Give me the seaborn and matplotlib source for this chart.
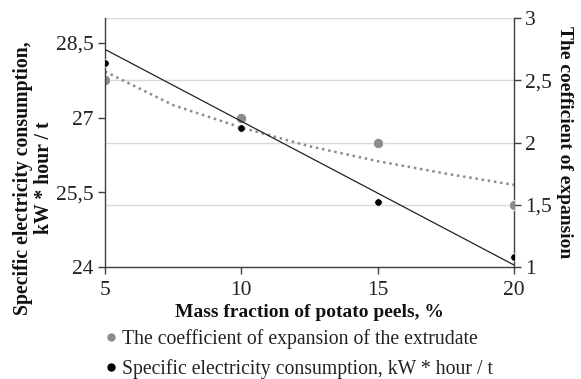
import numpy as np
import pandas as pd
import matplotlib
matplotlib.use("Agg")
import matplotlib.pyplot as plt
import seaborn as sns
from matplotlib.ticker import FuncFormatter, FixedLocator
from matplotlib.lines import Line2D

sns.set_theme(style="white")
plt.rcParams['font.family'] = ['Liberation Serif', 'DejaVu Serif']

# Data
mass_fraction = [5, 10, 15, 20]
energy = [28.1, 26.8, 25.3, 24.2]           # left axis
expansion = [2.5, 2.2, 2.0, 1.5]            # right axis
energy_trend_x = [5, 20]
energy_trend = [28.37, 24.04]
expansion_trend_x = [5, 7.5, 10, 12.5, 15, 17.5, 20]
expansion_trend = [2.57, 2.30, 2.12, 1.97, 1.85, 1.75, 1.66]

x_ticks = [5, 10, 15, 20]
left_ticks = [24, 25.5, 27, 28.5]
right_ticks = [1, 1.5, 2, 2.5, 3]

label_expansion = "The coefficient of expansion of the extrudate"
label_energy = "Specific electricity consumption, kW * hour / t"

df_pts = pd.DataFrame({"x": mass_fraction, "energy": energy, "expansion": expansion})
df_et = pd.DataFrame({"x": energy_trend_x, "y": energy_trend})
df_xt = pd.DataFrame({"x": expansion_trend_x, "y": expansion_trend})

fig = plt.figure(figsize=(5.81, 3.79), dpi=100)
ax = fig.add_axes([0.1807, 0.2955, 0.704, 0.657])
ax2 = ax.twinx()

grey = "#8c8c8c"
spine_c = "#404040"
fs_tick = 15.5
fs_leg = 14.2

# right axis: gridlines + expansion
ax2.set_ylim(1, 3)
ax2.yaxis.set_major_locator(FixedLocator(right_ticks))
ax2.grid(True, axis="y", color="#d9d9d9", linewidth=1.0)
ax2.set_axisbelow(True)

sns.lineplot(data=df_xt, x="x", y="y", ax=ax2, color=grey, linestyle=(0, (1.0, 1.5)),
             linewidth=1.8, legend=False)
sns.scatterplot(data=df_pts, x="x", y="expansion", ax=ax2, color=grey, s=55,
                edgecolor="white", linewidth=0.6, zorder=5, legend=False)

# left axis: energy
sns.lineplot(data=df_et, x="x", y="y", ax=ax, color="#222222", linewidth=0.9, legend=False)
sns.scatterplot(data=df_pts, x="x", y="energy", ax=ax, color="black", s=30,
                edgecolor="white", linewidth=0.6, zorder=5, legend=False)
ax.set_zorder(ax2.get_zorder() + 1)
ax.patch.set_visible(False)

ax.set_xlim(5, 20)
ax.set_ylim(24, 29)
ax.xaxis.set_major_locator(FixedLocator(x_ticks))
ax.yaxis.set_major_locator(FixedLocator(left_ticks))

fmt = FuncFormatter(lambda v, p: ("%g" % v).replace(".", ","))
ax.yaxis.set_major_formatter(fmt)
ax2.yaxis.set_major_formatter(fmt)
ax.xaxis.set_major_formatter(fmt)

for a in (ax, ax2):
    for s in a.spines.values():
        s.set_visible(False)
ax.spines["left"].set_visible(True)
ax.spines["bottom"].set_visible(True)
ax2.spines["right"].set_visible(True)
for s in (ax.spines["left"], ax.spines["bottom"], ax2.spines["right"]):
    s.set_color(spine_c)
    s.set_linewidth(1.0)

ax.tick_params(axis="y", which="major", direction="out", length=5, width=1,
               color=spine_c, labelsize=fs_tick, labelcolor="#222222", pad=3, left=True)
ax.tick_params(axis="x", which="major", direction="out", length=5, width=1,
               color=spine_c, labelsize=fs_tick, labelcolor="#222222", pad=5, bottom=True)
ax2.tick_params(axis="y", direction="out", length=5, width=1, color=spine_c,
                labelsize=fs_tick, labelcolor="#222222", right=True, pad=3)

ax.set_xlabel("Mass fraction of potato peels, %", fontsize=14, fontweight="bold",
              labelpad=3, color="#111111")
ax.set_ylabel("Specific electricity consumption,\nkW * hour / t", fontsize=14.2,
              fontweight="bold", color="#111111", linespacing=1.05)
ax.yaxis.set_label_coords(-0.125, 0.357)
ax2.set_ylabel("The coefficient of expansion", fontsize=14, fontweight="bold",
               rotation=-90, color="#111111")
ax2.yaxis.set_label_coords(1.145, 0.5)

handles = [
    Line2D([], [], linestyle="none", marker="o", markersize=5, color=grey),
    Line2D([], [], linestyle="none", marker="o", markersize=5, color="black"),
]
leg = fig.legend(handles, [label_expansion, label_energy], loc="upper left",
                 bbox_to_anchor=(0.163, 0.153), frameon=False, fontsize=fs_leg,
                 handletextpad=0.1, handlelength=0.9, labelspacing=0.5,
                 borderaxespad=0)
for t in leg.get_texts():
    t.set_color("#222222")

fig.savefig("out.png", dpi=100)
